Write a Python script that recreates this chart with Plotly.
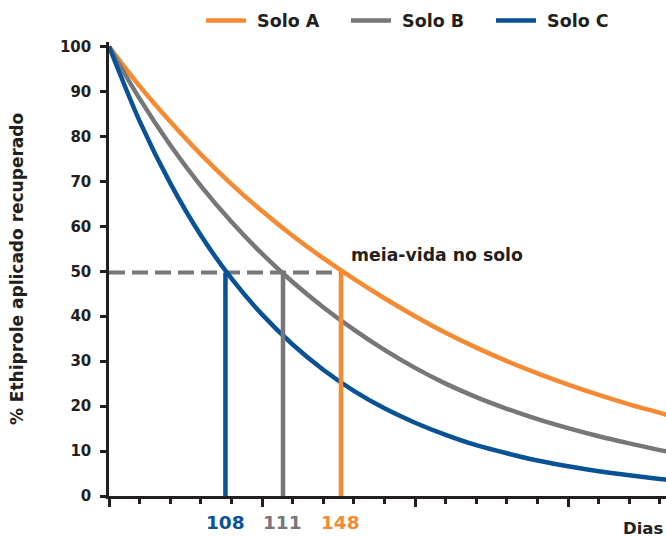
import plotly.graph_objects as go

# ---- data ----
days = [0, 20, 40, 60, 80, 100, 120, 140, 160, 180, 200, 220, 240, 260, 280, 300, 320, 340, 360, 365]
solo_a = [100, 91.2, 83.3, 76.0, 69.4, 63.4, 57.9, 52.9, 48.3, 44.0, 40.0, 36.3, 33.0, 30.0, 27.3, 24.8, 22.5, 20.4, 18.5, 18.0]
solo_b = [100, 88.4, 78.1, 69.0, 61.0, 53.9, 47.6, 42.0, 37.0, 32.5, 28.5, 25.0, 22.0, 19.4, 17.1, 15.1, 13.3, 11.7, 10.2, 9.9]
solo_c = [100, 83.4, 69.6, 58.0, 48.4, 40.4, 33.7, 28.1, 23.4, 19.5, 16.3, 13.6, 11.3, 9.5, 7.9, 6.6, 5.5, 4.6, 3.8, 3.65]
series_names = ["Solo A", "Solo B", "Solo C"]
colors = ["#f58a33", "#77777a", "#0a5296"]

# half-life markers: position on the drawn axis and printed label
half_life_pos = [76.1, 113.7, 151.6]   # C, B, A
half_life_labels = ["108", "111", "148"]
half_life_colors = ["#0a5296", "#77777a", "#f58a33"]
half_level = 49.7

FONT = "DejaVu Sans"
DARK = "#231f20"

# pixel geometry of plot area
L, R, T, B = 109, 0, 41.5, 41
PW, PH = 666 - L - R, 537 - T - B

fig = go.Figure()

fig.add_trace(go.Scatter(x=[0, half_life_pos[2]], y=[half_level, half_level], mode="lines",
                         line=dict(color="#77777a", width=4, dash="16px,7px"),
                         showlegend=False, hoverinfo="skip"))

for name, vals, col in zip(series_names, [solo_a, solo_b, solo_c], colors):
    fig.add_trace(go.Scatter(x=days, y=vals, mode="lines", name="\u00a0" + name,
                             line=dict(color=col, width=4.5, shape="spline", smoothing=0.8)))

for pos, col in zip(half_life_pos, half_life_colors):
    fig.add_trace(go.Scatter(x=[pos, pos], y=[0, half_level], mode="lines",
                             line=dict(color=col, width=4.5),
                             showlegend=False, hoverinfo="skip"))

for pos, lab, col in zip(half_life_pos, half_life_labels, half_life_colors):
    fig.add_annotation(x=pos, xref="x", y=-(523 - 496) / PH, yref="paper", yanchor="middle",
                       text=lab, showarrow=False,
                       font=dict(family=FONT, size=18.5, color=col, weight="bold"))

fig.add_annotation(x=half_life_pos[2] + 5, y=half_level, xref="x", yref="y",
                   xanchor="left", yanchor="bottom", yshift=6,
                   text="meia-vida no solo", showarrow=False,
                   font=dict(family=FONT, size=17.3, color=DARK, weight="bold"))

fig.add_annotation(xref="paper", yref="paper", x=(621 - L) / PW, y=-(529 - 496) / PH,
                   xanchor="left", yanchor="middle", text="Dias", showarrow=False,
                   font=dict(family=FONT, size=16.5, color=DARK, weight="bold"))

fig.update_layout(
    width=666, height=537,
    margin=dict(l=L, r=R, t=T, b=B, autoexpand=False),
    paper_bgcolor="white", plot_bgcolor="white",
    font=dict(family=FONT, color=DARK, weight="bold"),
    showlegend=True,
    legend=dict(orientation="h", x=(201 - L) / PW, xanchor="left", y=1.0 + (T - 20) / PH,
                yanchor="middle", font=dict(family=FONT, size=17.5, color=DARK, weight="bold"),
                itemwidth=40, entrywidth=90, entrywidthmode="pixels",
                tracegroupgap=0, bgcolor="rgba(0,0,0,0)"),
    xaxis=dict(range=[0, 364], showgrid=False, zeroline=False, showline=True, linecolor=DARK, linewidth=2.5,
               ticks="outside", tickmode="linear", tick0=0, dtick=100, ticklen=8, tickwidth=2.5, tickcolor=DARK,
               showticklabels=False,
               minor=dict(ticks="outside", tickmode="linear", tick0=0, dtick=20, ticklen=5, tickwidth=2.5, tickcolor=DARK)),
    yaxis=dict(range=[0, 101], showgrid=False, zeroline=False, showline=True, linecolor=DARK, linewidth=2.5,
               automargin=False,
               ticks="outside", tickmode="linear", tick0=0, dtick=10, ticklen=6, tickwidth=2.5, tickcolor=DARK,
               ticklabelstandoff=6,
               tickfont=dict(family=FONT, size=15, color=DARK, weight="bold"),
               title=dict(text="% Ethiprole aplicado recuperado", standoff=32,
                          font=dict(family=FONT, size=17, color=DARK, weight="bold"))),
)

fig.write_html("out.html", config={"displayModeBar": False},
               post_script="document.body.style.margin='0';")
